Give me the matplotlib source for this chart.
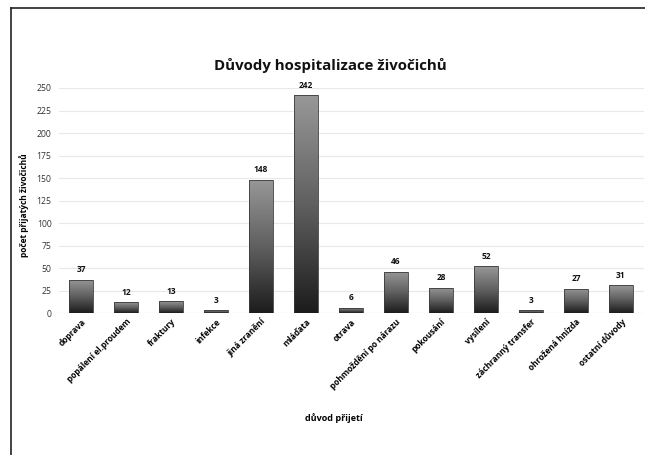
import numpy as np
import matplotlib.pyplot as plt
from matplotlib.colors import LinearSegmentedColormap
from matplotlib.lines import Line2D

plt.rcParams['font.family'] = ['Open Sans', 'DejaVu Sans']

reasons = ['doprava', 'popálení el.proudem', 'fraktury', 'infekce', 'jiná zranění',
           'mláďata', 'otrava', 'pohmoždění po nárazu', 'pokousání', 'vysílení',
           'záchranný transfer', 'ohrožená hnízda', 'ostatní důvody']
counts = [37, 12, 13, 3, 148, 242, 6, 46, 28, 52, 3, 27, 31]
yticks = [0, 25, 50, 75, 100, 125, 150, 175, 200, 225, 250]

fig = plt.figure(figsize=(6.45, 4.55), dpi=100)
ax = fig.add_axes([0.0907, 0.312, 0.907, 0.4946])

x = np.arange(len(reasons))
bars = ax.bar(x, counts, width=0.52, color='none', edgecolor='#3a3a3a', linewidth=0.6, zorder=3)

# vertical gradient inside every bar (dark bottom -> grey top)
cmap = LinearSegmentedColormap.from_list('g', ['#1c1c1c', '#606060', '#989898'])
grad = np.linspace(0, 1, 256).reshape(-1, 1)
for b in bars:
    x0, y0 = b.get_x(), b.get_y()
    im = ax.imshow(grad, cmap=cmap, origin='lower', aspect='auto',
                   extent=(x0, x0 + b.get_width(), y0, y0 + b.get_height()), zorder=2)
    im.set_clip_path(b)

for xi, c in zip(x, counts):
    ax.annotate(str(c), (xi, c), xytext=(0, 4), textcoords='offset points',
                ha='center', va='bottom', fontsize=6, fontweight='bold', color='#111111')

ax.set_xlim(-0.5, len(reasons) - 0.5)
ax.set_ylim(0, 250)
ax.set_yticks(yticks)
ax.tick_params(axis='y', labelsize=6.2, length=0, pad=5, labelcolor='#333333')
ax.set_xticks(x)
ax.set_xticklabels(reasons, rotation=45, ha='right', rotation_mode='anchor',
                   fontsize=6, fontweight='bold')
ax.tick_params(axis='x', length=0, pad=3)
ax.grid(axis='y', color='#e8e8e8', linewidth=0.8, zorder=0)
ax.set_axisbelow(True)
for s in ax.spines.values():
    s.set_visible(False)
ax.axhline(0, color='#d9d9d9', linewidth=0.8, zorder=1)

fig.text(0.512, 0.855, 'Důvody hospitalizace živočichů', ha='center', va='center',
         fontsize=10.8, fontweight='bold', color='#111111')
fig.text(0.037, 0.55, 'počet přijatých živočichů', rotation=90, ha='center', va='center',
         fontsize=6, fontweight='bold')
fig.text(0.517, 0.081, 'důvod přijetí', ha='center', va='center', fontsize=6.5, fontweight='bold')

# frame of the screenshot (top and left)
fig.add_artist(Line2D([11 / 645, 1], [1 - 8 / 455] * 2, transform=fig.transFigure,
                      color='#222222', linewidth=1.2))
fig.add_artist(Line2D([11 / 645] * 2, [0, 1 - 8 / 455], transform=fig.transFigure,
                      color='#222222', linewidth=1.2))

fig.savefig('out.png', dpi=100)
